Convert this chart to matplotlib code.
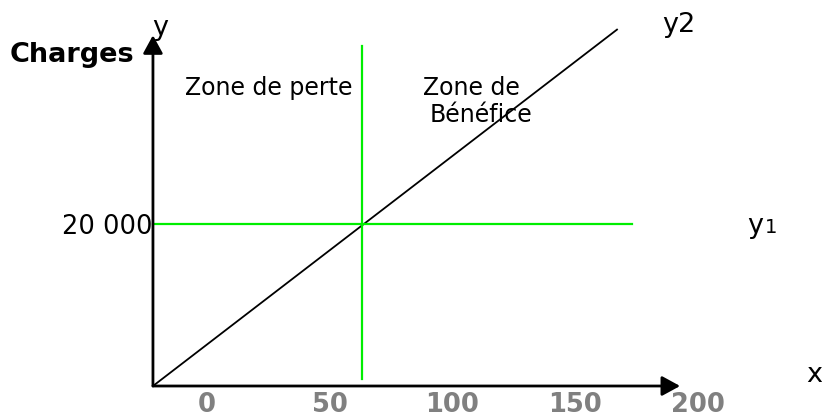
import matplotlib.pyplot as plt

# Seuil de rentabilité : charges fixes (y1) et droite des charges (y2)
charges_fixes = 20000
origine_x = -22
seuil_x = 63
y2_x = [origine_x, 167]
y2_y = [0, 44000]
y1_x = [origine_x, 173]
seuil_y = [900, 42000]
x_ticks = [0, 50, 100, 150, 200]
x_ticklabels = ['0', '50', '100', '150', '200']
y_ticks = [charges_fixes]
y_ticklabels = ['20 000']

fig = plt.figure(figsize=(8.22, 4.15), dpi=100)
ax = fig.add_axes([0, 0, 1, 1])
ax.set_xlim(-84.3, 250.5)
ax.set_ylim(-3580, 47654)

green = '#00ee00'

# droites
ax.plot(y2_x, y2_y, color='black', lw=1.3)
ax.plot(y1_x, [charges_fixes, charges_fixes], color=green, lw=1.6)
ax.plot([seuil_x, seuil_x], seuil_y, color=green, lw=1.6)

# axes fléchés
arrow = dict(arrowstyle='-|>,head_length=0.55,head_width=0.3', color='black',
             lw=2, shrinkA=0, shrinkB=0, mutation_scale=20)
ax.annotate('', xy=(192.7, 0), xytext=(origine_x, 0), arrowprops=arrow)
ax.annotate('', xy=(origine_x, 43300), xytext=(origine_x, 0), arrowprops=arrow)

# graduations
for s in ax.spines.values():
    s.set_visible(False)
ax.spines['bottom'].set_position(('data', 0))
ax.spines['left'].set_position(('data', origine_x))
ax.set_xticks(x_ticks)
ax.set_xticklabels(x_ticklabels, fontweight='bold', color='gray')
ax.set_yticks(y_ticks)
ax.set_yticklabels(y_ticklabels)
ax.tick_params(axis='x', length=0, pad=4, labelsize=18.5)
ax.tick_params(axis='y', length=0, pad=0, labelsize=18.5)

# textes
ax.text(-55, 40864, 'Charges', fontsize=19.5, fontweight='bold',
        ha='center', va='center')
ax.text(-19, 44200, 'y', fontsize=19.5, ha='center', va='center')
ax.text(25.3, 35926, 'Zone de perte', fontsize=17, ha='center', va='baseline')
ax.text(88.0, 35926, 'Zone de', fontsize=17, ha='left', va='baseline')
ax.text(90.8, 32593, 'Bénéfice', fontsize=17, ha='left', va='baseline')
ax.text(185.3, 43700, 'y2', fontsize=19.5, ha='left', va='baseline')
ax.text(220.0, 18888, 'y', fontsize=19.5, ha='left', va='baseline')
ax.text(227.2, 18888, '1', fontsize=14, ha='left', va='baseline')
ax.text(244, 500, 'x', fontsize=19.5, ha='left', va='baseline')

fig.savefig('out.png', dpi=100)
